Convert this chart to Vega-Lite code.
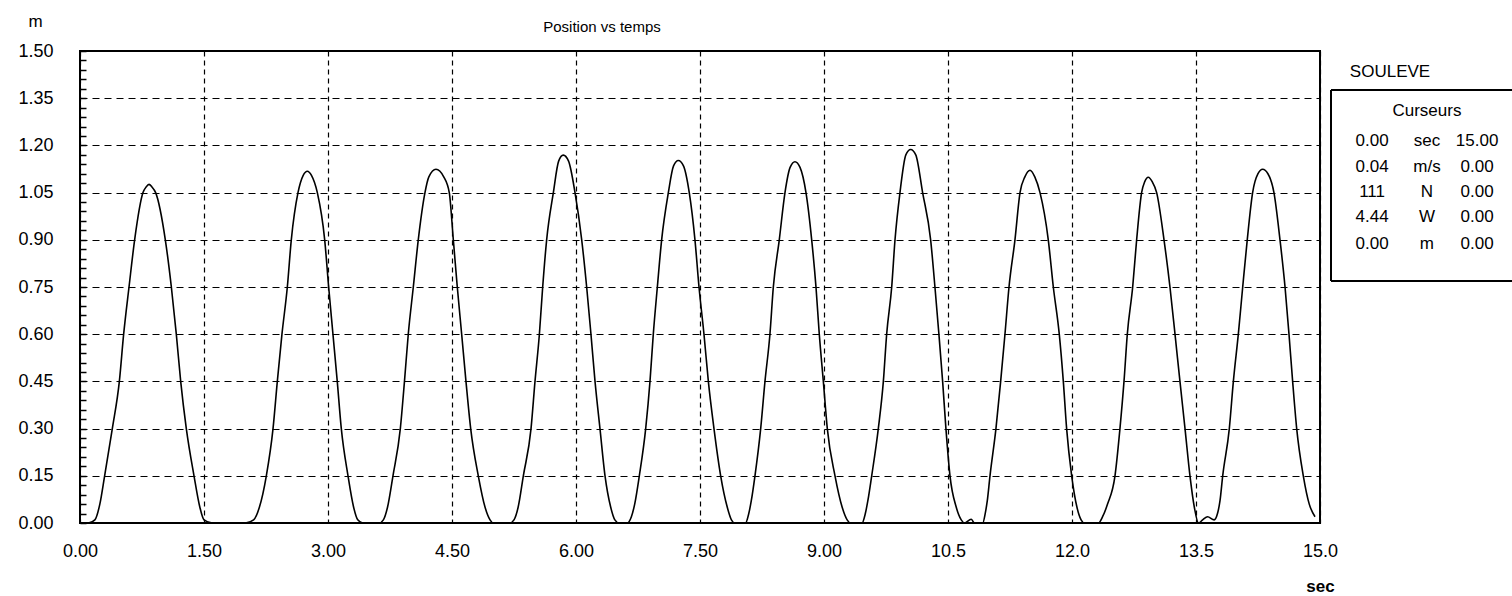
{
  "$schema": "https://vega.github.io/schema/vega-lite/v6.json",
  "autosize": {"type": "pad"},
  "padding": {"left": 16, "top": 11, "right": 0, "bottom": 0},
  "bounds": "flush",
  "spacing": 11,
  "background": "white",
  "config": {"font": "Liberation Sans", "view": {"stroke": null}},
  "hconcat": [
    {
      "width": 1240,
      "height": 472,
      "view": {"stroke": "black", "strokeWidth": 2},
      "title": {"text": "Position vs temps", "fontSize": 15, "fontWeight": "normal", "color": "black", "anchor": "middle", "dx": -98, "offset": -23},
      "data": {"values": [
        {"t":0,"v":0},{"t":0.1,"v":0},{"t":0.18,"v":0.01},{"t":0.24,"v":0.06},{"t":0.298,"v":0.15},{"t":0.391,"v":0.3},{"t":0.476,"v":0.45},{"t":0.528,"v":0.6},{"t":0.593,"v":0.75},{"t":0.661,"v":0.9},{"t":0.762,"v":1.05},{"t":0.8,"v":1.068},{"t":0.835,"v":1.076},{"t":0.87,"v":1.068},{"t":0.915,"v":1.05},{"t":1.032,"v":0.9},{"t":1.105,"v":0.75},{"t":1.165,"v":0.6},{"t":1.218,"v":0.45},{"t":1.286,"v":0.3},{"t":1.379,"v":0.15},{"t":1.45,"v":0.05},{"t":1.5,"v":0.01},{"t":1.6,"v":0},
        {"t":2.0,"v":0},{"t":2.1,"v":0.01},{"t":2.17,"v":0.05},{"t":2.254,"v":0.15},{"t":2.335,"v":0.3},{"t":2.387,"v":0.45},{"t":2.443,"v":0.6},{"t":2.508,"v":0.75},{"t":2.556,"v":0.9},{"t":2.637,"v":1.05},{"t":2.7,"v":1.105},{"t":2.75,"v":1.118},{"t":2.8,"v":1.105},{"t":2.871,"v":1.05},{"t":2.96,"v":0.9},{"t":3.008,"v":0.75},{"t":3.06,"v":0.6},{"t":3.112,"v":0.45},{"t":3.161,"v":0.3},{"t":3.242,"v":0.15},{"t":3.31,"v":0.05},{"t":3.36,"v":0.01},{"t":3.42,"v":0},
        {"t":3.62,"v":0},{"t":3.67,"v":0.01},{"t":3.72,"v":0.05},{"t":3.786,"v":0.15},{"t":3.875,"v":0.3},{"t":3.925,"v":0.45},{"t":3.971,"v":0.6},{"t":4.032,"v":0.75},{"t":4.092,"v":0.9},{"t":4.173,"v":1.05},{"t":4.22,"v":1.1},{"t":4.306,"v":1.124},{"t":4.4,"v":1.1},{"t":4.467,"v":1.05},{"t":4.516,"v":0.9},{"t":4.564,"v":0.75},{"t":4.617,"v":0.6},{"t":4.669,"v":0.45},{"t":4.726,"v":0.3},{"t":4.818,"v":0.15},{"t":4.9,"v":0.05},{"t":4.96,"v":0.01},{"t":5.0,"v":0},
        {"t":5.2,"v":0},{"t":5.25,"v":0.01},{"t":5.3,"v":0.05},{"t":5.363,"v":0.15},{"t":5.456,"v":0.3},{"t":5.504,"v":0.45},{"t":5.557,"v":0.6},{"t":5.597,"v":0.75},{"t":5.645,"v":0.9},{"t":5.726,"v":1.05},{"t":5.79,"v":1.15},{"t":5.846,"v":1.169},{"t":5.91,"v":1.15},{"t":5.988,"v":1.05},{"t":6.069,"v":0.9},{"t":6.129,"v":0.75},{"t":6.181,"v":0.6},{"t":6.23,"v":0.45},{"t":6.29,"v":0.3},{"t":6.351,"v":0.15},{"t":6.42,"v":0.05},{"t":6.47,"v":0.01},{"t":6.52,"v":0},
        {"t":6.62,"v":0},{"t":6.67,"v":0.02},{"t":6.71,"v":0.06},{"t":6.766,"v":0.15},{"t":6.843,"v":0.3},{"t":6.895,"v":0.45},{"t":6.935,"v":0.6},{"t":6.984,"v":0.75},{"t":7.036,"v":0.9},{"t":7.117,"v":1.05},{"t":7.18,"v":1.135},{"t":7.238,"v":1.152},{"t":7.3,"v":1.135},{"t":7.37,"v":1.05},{"t":7.439,"v":0.9},{"t":7.488,"v":0.75},{"t":7.548,"v":0.6},{"t":7.601,"v":0.45},{"t":7.669,"v":0.3},{"t":7.75,"v":0.15},{"t":7.83,"v":0.05},{"t":7.88,"v":0.01},{"t":7.92,"v":0},
        {"t":8.05,"v":0},{"t":8.09,"v":0.03},{"t":8.12,"v":0.07},{"t":8.165,"v":0.15},{"t":8.234,"v":0.3},{"t":8.286,"v":0.45},{"t":8.346,"v":0.6},{"t":8.387,"v":0.75},{"t":8.459,"v":0.9},{"t":8.528,"v":1.05},{"t":8.59,"v":1.13},{"t":8.649,"v":1.148},{"t":8.71,"v":1.13},{"t":8.782,"v":1.05},{"t":8.851,"v":0.9},{"t":8.903,"v":0.75},{"t":8.943,"v":0.6},{"t":8.992,"v":0.45},{"t":9.04,"v":0.3},{"t":9.133,"v":0.15},{"t":9.22,"v":0.05},{"t":9.28,"v":0.01},{"t":9.32,"v":0},
        {"t":9.46,"v":0},{"t":9.5,"v":0.03},{"t":9.53,"v":0.07},{"t":9.577,"v":0.15},{"t":9.657,"v":0.3},{"t":9.718,"v":0.45},{"t":9.758,"v":0.6},{"t":9.819,"v":0.75},{"t":9.859,"v":0.9},{"t":9.919,"v":1.05},{"t":9.99,"v":1.17},{"t":10.048,"v":1.187},{"t":10.11,"v":1.17},{"t":10.193,"v":1.05},{"t":10.29,"v":0.9},{"t":10.342,"v":0.75},{"t":10.39,"v":0.6},{"t":10.435,"v":0.45},{"t":10.475,"v":0.3},{"t":10.524,"v":0.15},{"t":10.6,"v":0.05},{"t":10.66,"v":0.01},{"t":10.7,"v":0},{"t":10.78,"v":0.012},{"t":10.82,"v":0},
        {"t":10.92,"v":0},{"t":10.95,"v":0.03},{"t":10.975,"v":0.07},{"t":11.008,"v":0.15},{"t":11.08,"v":0.3},{"t":11.137,"v":0.45},{"t":11.189,"v":0.6},{"t":11.238,"v":0.75},{"t":11.31,"v":0.9},{"t":11.371,"v":1.05},{"t":11.43,"v":1.1},{"t":11.492,"v":1.121},{"t":11.55,"v":1.1},{"t":11.613,"v":1.05},{"t":11.713,"v":0.9},{"t":11.774,"v":0.75},{"t":11.846,"v":0.6},{"t":11.895,"v":0.45},{"t":11.935,"v":0.3},{"t":11.996,"v":0.15},{"t":12.06,"v":0.05},{"t":12.11,"v":0.01},{"t":12.15,"v":0},
        {"t":12.32,"v":0},{"t":12.37,"v":0.02},{"t":12.43,"v":0.06},{"t":12.52,"v":0.15},{"t":12.58,"v":0.3},{"t":12.629,"v":0.45},{"t":12.669,"v":0.6},{"t":12.734,"v":0.75},{"t":12.782,"v":0.9},{"t":12.842,"v":1.05},{"t":12.88,"v":1.085},{"t":12.923,"v":1.099},{"t":12.97,"v":1.085},{"t":13.024,"v":1.05},{"t":13.113,"v":0.9},{"t":13.185,"v":0.75},{"t":13.246,"v":0.6},{"t":13.306,"v":0.45},{"t":13.367,"v":0.3},{"t":13.427,"v":0.15},{"t":13.48,"v":0.05},{"t":13.53,"v":0},{"t":13.58,"v":0.01},{"t":13.64,"v":0.02},{"t":13.72,"v":0.01},{"t":13.76,"v":0.03},{"t":13.79,"v":0.07},
        {"t":13.823,"v":0.15},{"t":13.903,"v":0.3},{"t":13.952,"v":0.45},{"t":14.012,"v":0.6},{"t":14.065,"v":0.75},{"t":14.12,"v":0.9},{"t":14.185,"v":1.05},{"t":14.25,"v":1.11},{"t":14.306,"v":1.124},{"t":14.37,"v":1.11},{"t":14.443,"v":1.05},{"t":14.516,"v":0.9},{"t":14.577,"v":0.75},{"t":14.625,"v":0.6},{"t":14.669,"v":0.45},{"t":14.718,"v":0.3},{"t":14.798,"v":0.15},{"t":14.87,"v":0.06},{"t":14.94,"v":0.02}
      ]},
      "mark": {"type": "line", "color": "black", "strokeWidth": 1.6, "interpolate": "monotone"},
      "encoding": {
        "x": {
          "field": "t", "type": "quantitative",
          "scale": {"domain": [0, 15], "nice": false, "zero": false},
          "axis": {
            "values": [0, 1.5, 3, 4.5, 6, 7.5, 9, 10.5, 12, 13.5, 15],
            "labelExpr": "datum.value < 10 ? format(datum.value, '.2f') : format(datum.value, '.1f')",
            "labelFontSize": 18, "labelColor": "black", "labelPadding": 19, "labelFlush": false, "labelOverlap": false,
            "ticks": false, "domain": false,
            "grid": true, "gridColor": "black", "gridDash": [5, 4], "gridWidth": 1.2, "gridOpacity": 1,
            "title": "sec", "titleFontSize": 17, "titleFontWeight": "bold", "titleColor": "black",
            "titleX": 1240, "titleY": 63, "titleAlign": "center", "titleBaseline": "middle"
          }
        },
        "y": {
          "field": "v", "type": "quantitative",
          "scale": {"domain": [0, 1.5], "nice": false},
          "axis": {
            "values": [0,0.03,0.06,0.09,0.12,0.15,0.18,0.21,0.24,0.27,0.3,0.33,0.36,0.39,0.42,0.45,0.48,0.51,0.54,0.57,0.6,0.63,0.66,0.69,0.72,0.75,0.78,0.81,0.84,0.87,0.9,0.93,0.96,0.99,1.02,1.05,1.08,1.11,1.14,1.17,1.2,1.23,1.26,1.29,1.32,1.35,1.38,1.41,1.44,1.47,1.5],
            "labelExpr": "round(datum.value * 100) % 15 === 0 ? format(datum.value, '.2f') : ''",
            "labelFontSize": 18, "labelColor": "black", "labelPadding": 33, "labelOverlap": false, "labelFlush": false,
            "ticks": true, "tickSize": -6, "tickColor": "black", "tickWidth": 1.5,
            "domain": false,
            "grid": true, "gridColor": "black", "gridDash": [7, 5], "gridWidth": 1.2,
            "gridOpacity": {"condition": {"test": "round(datum.value * 100) % 15 === 0", "value": 1}, "value": 0},
            "title": "m", "titleFontSize": 17, "titleFontWeight": "normal", "titleColor": "black", "titleAngle": 0,
            "titleX": -45, "titleY": -30, "titleAlign": "center", "titleBaseline": "middle"
          }
        }
      }
    },
    {
      "width": 181,
      "height": 231,
      "view": {"stroke": null},
      "layer": [
        {
          "data": {"values": [
            {"x1": 0, "x2": 10, "y1": 1.52, "y2": 1.52},
            {"x1": 0, "x2": 0, "y1": 1.52, "y2": 8.96},
            {"x1": 0, "x2": 10, "y1": 8.96, "y2": 8.96}
          ]},
          "mark": {"type": "rule", "color": "black", "strokeWidth": 2},
          "encoding": {
            "x": {"field": "x1", "type": "quantitative", "scale": {"domain": [0, 10], "nice": false}, "axis": null},
            "x2": {"field": "x2"},
            "y": {"field": "y1", "type": "quantitative", "scale": {"domain": [0, 9], "nice": false, "reverse": true}, "axis": null},
            "y2": {"field": "y2"}
          }
        },
        {
          "data": {"values": [
            {"txt": "SOULEVE", "col": 3.26, "row": 0.82},
            {"txt": "Curseurs", "col": 5.3, "row": 2.34},
            {"txt": "0.00", "col": 2.27, "row": 3.51},
            {"txt": "sec", "col": 5.3, "row": 3.51},
            {"txt": "15.00", "col": 8.07, "row": 3.51},
            {"txt": "0.04", "col": 2.27, "row": 4.52},
            {"txt": "m/s", "col": 5.3, "row": 4.52},
            {"txt": "0.00", "col": 8.07, "row": 4.52},
            {"txt": "111", "col": 2.27, "row": 5.49},
            {"txt": "N", "col": 5.3, "row": 5.49},
            {"txt": "0.00", "col": 8.07, "row": 5.49},
            {"txt": "4.44", "col": 2.27, "row": 6.47},
            {"txt": "W", "col": 5.3, "row": 6.47},
            {"txt": "0.00", "col": 8.07, "row": 6.47},
            {"txt": "0.00", "col": 2.27, "row": 7.52},
            {"txt": "m", "col": 5.3, "row": 7.52},
            {"txt": "0.00", "col": 8.07, "row": 7.52}
          ]},
          "mark": {"type": "text", "color": "black", "fontSize": 17, "align": "center", "baseline": "middle"},
          "encoding": {
            "x": {"field": "col", "type": "quantitative", "scale": {"domain": [0, 10], "nice": false}, "axis": null},
            "y": {"field": "row", "type": "quantitative", "scale": {"domain": [0, 9], "nice": false, "reverse": true}, "axis": null},
            "text": {"field": "txt"}
          }
        }
      ]
    }
  ]
}
